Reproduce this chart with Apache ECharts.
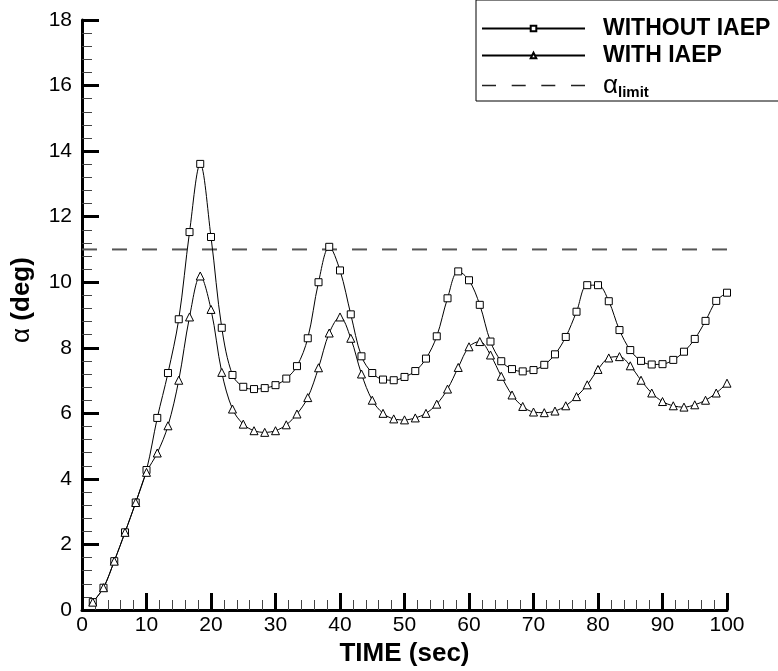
<!DOCTYPE html>
<html>
<head>
<meta charset="utf-8">
<title>Angle of attack history</title>
<script src="https://cdn.jsdelivr.net/npm/echarts@6/dist/echarts.min.js"></script>
<style>
  html, body { margin: 0; padding: 0; background: #fff; }
  #chart { width: 778px; height: 671px; }
</style>
</head>
<body>
<div id="chart"></div>
<script>
// Sample times (sec) of the marked points
const timeSec = [
  1.67, 3.33, 5.00, 6.67, 8.33, 10.00, 11.67, 13.33, 15.00, 16.67,
  18.33, 20.00, 21.67, 23.33, 25.00, 26.67, 28.33, 30.00, 31.67, 33.33,
  35.00, 36.67, 38.33, 40.00, 41.67, 43.33, 45.00, 46.67, 48.33, 50.00,
  51.67, 53.33, 55.00, 56.67, 58.33, 60.00, 61.67, 63.33, 65.00, 66.67,
  68.33, 70.00, 71.67, 73.33, 75.00, 76.67, 78.33, 80.00, 81.67, 83.33,
  85.00, 86.67, 88.33, 90.00, 91.67, 93.33, 95.00, 96.67, 98.33, 100.00
];

// Angle of attack (deg) without IAEP
const alphaWithout = [
  0.24, 0.68, 1.49, 2.37, 3.28, 4.27, 5.86, 7.23, 8.87, 11.53,
  13.61, 11.38, 8.61, 7.17, 6.81, 6.74, 6.77, 6.86, 7.06, 7.44,
  8.29, 10.00, 11.08, 10.36, 9.02, 7.74, 7.23, 7.03, 7.01, 7.11,
  7.29, 7.67, 8.35, 9.51, 10.33, 10.06, 9.31, 8.19, 7.59, 7.35,
  7.28, 7.32, 7.48, 7.80, 8.33, 9.10, 9.91, 9.91, 9.42, 8.54,
  7.93, 7.60, 7.49, 7.50, 7.63, 7.88, 8.27, 8.82, 9.43, 9.68
];

// Angle of attack (deg) with IAEP
const alphaWith = [
  0.24, 0.68, 1.49, 2.37, 3.28, 4.20, 4.79, 5.62, 7.01, 8.94,
  10.19, 9.17, 7.25, 6.13, 5.67, 5.47, 5.42, 5.47, 5.65, 5.98,
  6.48, 7.39, 8.45, 8.94, 8.29, 7.20, 6.40, 6.00, 5.83, 5.80,
  5.86, 6.00, 6.28, 6.74, 7.40, 8.03, 8.19, 7.78, 7.13, 6.56,
  6.21, 6.04, 6.02, 6.07, 6.23, 6.51, 6.87, 7.34, 7.69, 7.73,
  7.45, 7.01, 6.62, 6.36, 6.23, 6.19, 6.26, 6.40, 6.62, 6.92
];

// Limit angle (deg) and the time span it covers
const alphaLimit = 11;
const limitSpan = [0, 100];

const seriesNames = ['WITHOUT IAEP', 'WITH IAEP', 'ALPHA_LIMIT'];

const FONT = '"Liberation Sans", Arial, Helvetica, sans-serif';

const pairs = (xs, ys) => xs.map((x, i) => [x, ys[i]]);

const chart = echarts.init(document.getElementById('chart'), null, { renderer: 'canvas' });

const axisCommon = {
  type: 'value',
  axisLine: { show: true, onZero: false, lineStyle: { color: '#000', width: 3 } },
  axisTick: { show: true, inside: true, length: 17, lineStyle: { color: '#000', width: 3 } },
  minorTick: { show: true, splitNumber: 5, length: 10, lineStyle: { color: '#444', width: 1 } },
  splitLine: { show: false },
  axisLabel: { color: '#000', fontFamily: FONT, fontSize: 21 }
};

chart.setOption({
  animation: false,
  backgroundColor: '#fff',
  grid: { left: 82, right: 51, top: 20, bottom: 61, containLabel: false, outerBoundsMode: 'none' },
  xAxis: Object.assign({}, axisCommon, {
    min: 0, max: 100, interval: 10,
    name: 'TIME (sec)',
    nameLocation: 'middle',
    nameGap: 24,
    nameTextStyle: { color: '#000', fontFamily: FONT, fontSize: 26, fontWeight: 'bold' },
    axisLabel: Object.assign({}, axisCommon.axisLabel, { margin: 5 })
  }),
  yAxis: Object.assign({}, axisCommon, {
    min: 0, max: 18, interval: 2,
    name: '{a|α} {b|(deg)}',
    nameLocation: 'middle',
    nameGap: 47,
    nameTextStyle: {
      color: '#000', fontFamily: FONT, fontSize: 26, fontWeight: 'bold',
      padding: [0, 0, 0, 30],
      rich: {
        a: { fontFamily: FONT, fontSize: 26, fontWeight: 'normal', color: '#000' },
        b: { fontFamily: FONT, fontSize: 26, fontWeight: 'bold', color: '#000' }
      }
    },
    axisLabel: Object.assign({}, axisCommon.axisLabel, { margin: 10 })
  }),
  legend: {
    orient: 'vertical',
    left: 476,
    top: 0,
    padding: [17, 14, 1, 5],
    itemGap: 4,
    itemWidth: 103,
    itemHeight: 7,
    borderColor: '#000',
    borderWidth: 1,
    backgroundColor: '#fff',
    selectedMode: false,
    data: [
      { name: seriesNames[0] },
      { name: seriesNames[1] },
      {
        name: seriesNames[2],
        icon: 'path://M0,0h14v1.5h-14zM29.7,0h14v1.5h-14zM59.3,0h14v1.5h-14zM89,0h14v1.5h-14z',
        itemStyle: { color: '#222' }
      }
    ],
    formatter: function (name) {
      if (name === seriesNames[2]) return '{a|α}{s|limit}';
      return '{b|' + name + '}';
    },
    textStyle: {
      color: '#000',
      fontFamily: FONT,
      fontSize: 23,
      fontWeight: 'bold',
      lineHeight: 20,
      padding: [0, 0, 0, 13],
      rich: {
        b: { fontFamily: FONT, fontSize: 23, fontWeight: 'bold', color: '#000', lineHeight: 20 },
        a: { fontFamily: FONT, fontSize: 26, fontWeight: 'normal', color: '#000', lineHeight: 20 },
        s: { fontFamily: FONT, fontSize: 15, fontWeight: 'bold', color: '#000', lineHeight: 4, padding: [14, 0, 0, 0] }
      }
    }
  },
  series: [
    {
      name: seriesNames[0],
      type: 'line',
      data: pairs(timeSec, alphaWithout),
      smooth: 0.35,
      symbol: 'rect',
      symbolSize: 7,
      showAllSymbol: true,
      lineStyle: { color: '#000', width: 1 },
      itemStyle: { color: '#fff', borderColor: '#000', borderWidth: 1 },
      z: 3
    },
    {
      name: seriesNames[1],
      type: 'line',
      data: pairs(timeSec, alphaWith),
      smooth: 0.35,
      symbol: 'triangle',
      symbolSize: 8,
      showAllSymbol: true,
      lineStyle: { color: '#000', width: 1 },
      itemStyle: { color: '#fff', borderColor: '#000', borderWidth: 1 },
      z: 3
    },
    {
      name: seriesNames[2],
      type: 'line',
      data: limitSpan.map(t => [t, alphaLimit]),
      symbol: 'none',
      lineStyle: { color: '#555', width: 2, type: [15, 15] },
      itemStyle: { color: '#555' },
      z: 2
    }
  ]
});
</script>
</body>
</html>
